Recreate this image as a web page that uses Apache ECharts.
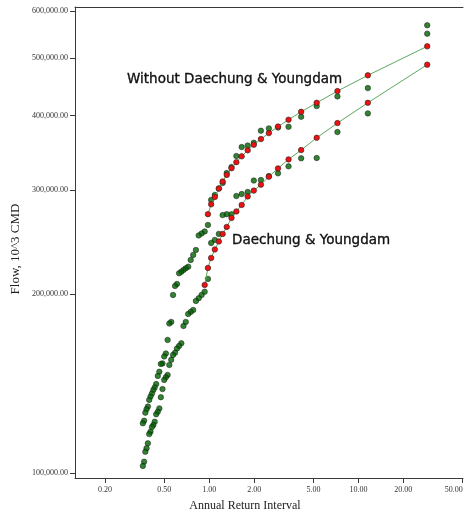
<!DOCTYPE html>
<html>
<head>
<meta charset="utf-8">
<script src="https://cdn.jsdelivr.net/npm/echarts@6/dist/echarts.min.js"></script>
<style>
  html, body { margin: 0; padding: 0; background: #ffffff; }
  #chart { width: 464px; height: 514px; }
</style>
</head>
<body>
<div id="chart"></div>
<script>
// Annual return interval (years) of each ranked flow, largest first
const returnInterval = [28.9, 11.56, 7.23, 5.25, 4.13, 3.40, 2.89, 2.51, 2.22, 1.99,
  1.81, 1.65, 1.52, 1.41, 1.31, 1.23, 1.16, 1.09, 1.03, 0.980,
  0.932, 0.889, 0.850, 0.814, 0.781, 0.751, 0.723, 0.696, 0.672, 0.650,
  0.628, 0.608, 0.590, 0.572, 0.556, 0.540, 0.526, 0.512, 0.499, 0.486,
  0.474, 0.463, 0.452, 0.441, 0.431, 0.422, 0.413, 0.404, 0.396, 0.388,
  0.380, 0.373, 0.366, 0.359];

// Flow without Daechung & Youngdam (10^3 CMD)
const withoutDamsObserved = [567700, 445000, 430900, 415000, 398100, 383000, 381800, 380600, 377200, 360000,
  356100, 354000, 341900, 327600, 320000, 307900, 301500, 294000, 288400, 261700,
  255200, 253200, 251300, 237500, 233000, 228500, 222600, 221200, 219800, 218300,
  217000, 208200, 206600, 199500, 179700, 178600, 167600, 159000, 157200, 153000,
  152700, 148100, 145700, 141200, 139400, 138000, 136100, 134500, 132800, 129400,
  128100, 126400, 122500, 121300];
const withoutDamsFitted = [523200, 467500, 439800, 420300, 405900, 393500, 383300, 373700, 365200, 357200,
  349500, 341500, 333900, 326100, 317800, 309800, 301400, 291700, 283500, 272900];

// Flow with Daechung & Youngdam (10^3 CMD)
const withDamsObserved = [549500, 403400, 375200, 339300, 338900, 328500, 319700, 316300, 311500, 310900,
  297400, 295100, 292800, 272900, 272900, 271900, 252800, 247000, 244100, 212300,
  202000, 199500, 197000, 194900, 188200, 186800, 185300, 179700, 176900, 165400,
  163700, 162100, 159500, 158100, 155100, 152100, 146300, 145000, 143500, 138500,
  134200, 128500, 126800, 125600, 122000, 120500, 119500, 117400, 116300, 112200,
  110100, 108600, 104500, 102800];
const withDamsFitted = [487300, 420300, 388500, 367000, 349900, 337500, 325900, 315600, 306000, 299000,
  292300, 282800, 275800, 269000, 259700, 252800, 245500, 238000, 230300, 221500, 207400];

// Axis ticks and extents
const xTickValues = [0.2, 0.5, 1, 2, 5, 10, 20, 50];
const yTickValues = [100000, 200000, 300000, 400000, 500000, 600000];
const xExtent = [0.126, 50.2];
const yExtent = [98100, 609400];

// Both axes are logarithmic: plot log10 of every value on linear value axes
const lg = Math.log10;
function pairs(xs, ys) {
  return ys.map((y, i) => [lg(xs[i]), lg(y)]);
}
function fmtInterval(v) {
  return Math.pow(10, v).toFixed(2);
}
function fmtFlow(v) {
  const n = Math.round(Math.pow(10, v));
  return n.toString().replace(/\B(?=(\d{3})+(?!\d))/g, ',') + '.00';
}

const tickFont = { fontFamily: 'Liberation Serif', fontSize: 8, color: '#333' };
const axisLineStyle = { color: '#3a3a3a', width: 1 };

const greenDot = { color: '#006400', borderColor: '#111', borderWidth: 0.6 };
const redDot = { color: '#ee1111', borderColor: '#222', borderWidth: 0.6 };
const fitLine = { color: '#5ea85e', width: 1 };

const noteStyle = { font: '13.5px "DejaVu Sans"', fill: '#111', stroke: '#111', lineWidth: 0.35,
  align: 'left', verticalAlign: 'middle' };

const chart = echarts.init(document.getElementById('chart'), null, { renderer: 'canvas' });
chart.setOption({
  animation: false,
  backgroundColor: '#ffffff',
  grid: { left: 75, right: 1, top: 7, bottom: 36, containLabel: false, outerBoundsMode: 'none' },
  xAxis: [{
    type: 'value',
    min: lg(xExtent[0]),
    max: lg(xExtent[1]),
    axisLine: { show: true, onZero: false, lineStyle: axisLineStyle },
    axisTick: { show: true, length: 5, lineStyle: axisLineStyle, customValues: xTickValues.map(lg) },
    axisLabel: Object.assign({ margin: 8, formatter: fmtInterval, customValues: xTickValues.map(lg),
      alignMaxLabel: 'right' }, tickFont),
    splitLine: { show: false }
  }, {
    type: 'value',
    position: 'top',
    min: lg(xExtent[0]),
    max: lg(xExtent[1]),
    axisLine: { show: true, onZero: false, lineStyle: axisLineStyle },
    axisTick: { show: false },
    axisLabel: { show: false },
    splitLine: { show: false }
  }],
  yAxis: {
    type: 'value',
    min: lg(yExtent[0]),
    max: lg(yExtent[1]),
    axisLine: { show: true, onZero: false, lineStyle: axisLineStyle },
    axisTick: { show: true, length: 5, lineStyle: axisLineStyle, customValues: yTickValues.map(lg) },
    axisLabel: Object.assign({ margin: 7, formatter: fmtFlow, customValues: yTickValues.map(lg) }, tickFont),
    splitLine: { show: false }
  },
  graphic: [
    { type: 'text', x: 16, y: 249, rotation: Math.PI / 2,
      style: { text: 'Flow, 10^3 CMD', font: '13px "Liberation Serif"', fill: '#222', align: 'center', verticalAlign: 'middle' } },
    { type: 'text', x: 245, y: 506,
      style: { text: 'Annual Return Interval', font: '12px "Liberation Serif"', fill: '#222', align: 'center', verticalAlign: 'middle' } },
    { type: 'text', x: 127, y: 79.5,
      style: Object.assign({ text: 'Without Daechung & Youngdam' }, noteStyle) },
    { type: 'text', x: 232, y: 240.5,
      style: Object.assign({ text: 'Daechung & Youngdam' }, noteStyle) }
  ],
  series: [
    { name: 'Without dams, observed', type: 'scatter', symbol: 'circle', symbolSize: 5.5,
      itemStyle: greenDot, data: pairs(returnInterval, withoutDamsObserved), z: 2 },
    { name: 'With dams, observed', type: 'scatter', symbol: 'circle', symbolSize: 5.5,
      itemStyle: greenDot, data: pairs(returnInterval, withDamsObserved), z: 2 },
    { name: 'Without dams, fitted', type: 'line', symbol: 'circle', symbolSize: 5.5, showSymbol: true,
      lineStyle: fitLine, itemStyle: redDot, data: pairs(returnInterval, withoutDamsFitted), z: 3 },
    { name: 'With dams, fitted', type: 'line', symbol: 'circle', symbolSize: 5.5, showSymbol: true,
      lineStyle: fitLine, itemStyle: redDot, data: pairs(returnInterval, withDamsFitted), z: 3 }
  ]
});
</script>
</body>
</html>
